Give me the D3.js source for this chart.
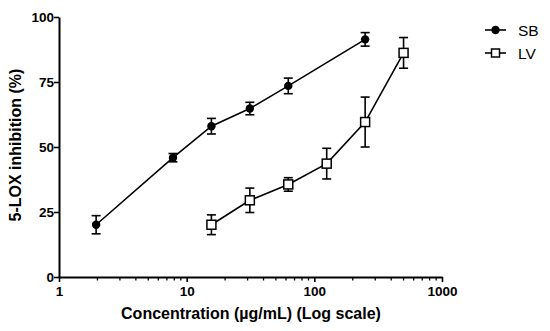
<!DOCTYPE html>
<html>
<head>
<meta charset="utf-8">
<script src="https://cdn.jsdelivr.net/npm/d3@7"></script>
<style>
  body { margin: 0; background: #fff; }
  text { font-family: "Liberation Sans", Arial, sans-serif; }
</style>
</head>
<body>
<div id="chart"></div>
<script>
// data
const sbConc = [1.953, 7.8125, 15.625, 31.25, 62.5, 250];
const sbMean = [20.1, 45.9, 58.0, 64.8, 73.5, 91.4];
const sbErr  = [3.5, 1.6, 3.0, 2.4, 3.0, 2.6];

const lvConc = [15.625, 31.25, 62.5, 125, 250, 500];
const lvMean = [20.1, 29.5, 35.6, 43.6, 59.6, 86.2];
const lvErr  = [3.8, 4.7, 2.6, 5.9, 9.6, 5.9];

const yTicks = [0, 25, 50, 75, 100];
const xTicks = [1, 10, 100, 1000];

const width = 550, height = 331;
const margin = { top: 17, right: 108, bottom: 54, left: 59 };

const svg = d3.select("#chart").append("svg")
  .attr("width", width)
  .attr("height", height);

const x = d3.scaleLog()
  .domain([1, 1000])
  .range([margin.left, width - margin.right]);

const y = d3.scaleLinear()
  .domain([0, 100])
  .range([height - margin.bottom, margin.top]);

const sb = sbConc.map((c, i) => ({ c: c, m: sbMean[i], e: sbErr[i] }));
const lv = lvConc.map((c, i) => ({ c: c, m: lvMean[i], e: lvErr[i] }));

// minor ticks for log axis
const minor = [];
for (let p = 1; p < 1000; p *= 10) {
  for (let k = 2; k <= 9; k++) minor.push(p * k);
}

const xAxis = svg.append("g")
  .attr("transform", `translate(0,${y(0)})`)
  .call(d3.axisBottom(x).tickValues(xTicks).tickFormat(d3.format("d")).tickSize(5).tickSizeOuter(0));

xAxis.selectAll(".minor")
  .data(minor)
  .join("line")
  .attr("class", "minor")
  .attr("x1", d => x(d)).attr("x2", d => x(d))
  .attr("y1", 0).attr("y2", 3.5)
  .attr("stroke", "#000").attr("stroke-width", 1.3);

const yAxis = svg.append("g")
  .attr("transform", `translate(${x(1)},0)`)
  .call(d3.axisLeft(y).tickValues(yTicks).tickSize(5).tickSizeOuter(0));

[xAxis, yAxis].forEach(g => {
  g.select(".domain").attr("stroke", "#000").attr("stroke-width", 2);
  g.selectAll(".tick line").attr("stroke", "#000").attr("stroke-width", 1.6);
  g.selectAll(".tick text")
    .attr("fill", "#000")
    .style("font-size", "13.5px")
    .style("font-weight", "bold")
    .style("font-family", "'Liberation Sans', Arial, sans-serif");
});
xAxis.selectAll(".tick text").attr("y", 9);
yAxis.selectAll(".tick text").attr("x", -5);

// axis titles
svg.append("text")
  .attr("x", 251)
  .attr("y", 319)
  .attr("text-anchor", "middle")
  .style("font-size", "16px")
  .style("font-weight", "bold")
  .text("Concentration (µg/mL) (Log scale)");

svg.append("text")
  .attr("transform", `translate(20.5,${(68 + 222) / 2}) rotate(-90)`)
  .attr("text-anchor", "middle")
  .style("font-size", "16px")
  .style("font-weight", "bold")
  .text("5-LOX inhibition (%)");

const line = d3.line().x(d => x(d.c)).y(d => y(d.m));

function drawSeries(data, marker) {
  const g = svg.append("g");
  g.append("path")
    .datum(data)
    .attr("d", line)
    .attr("fill", "none")
    .attr("stroke", "#000")
    .attr("stroke-width", 1.6);

  const eb = g.selectAll(".eb").data(data).join("g").attr("class", "eb");
  eb.append("line")
    .attr("x1", d => x(d.c)).attr("x2", d => x(d.c))
    .attr("y1", d => y(d.m - d.e)).attr("y2", d => y(d.m + d.e))
    .attr("stroke", "#000").attr("stroke-width", 1.6);
  [-1, 1].forEach(s => {
    eb.append("line")
      .attr("x1", d => x(d.c) - 4.5).attr("x2", d => x(d.c) + 4.5)
      .attr("y1", d => y(d.m + s * d.e)).attr("y2", d => y(d.m + s * d.e))
      .attr("stroke", "#000").attr("stroke-width", 1.6);
  });

  if (marker === "circle") {
    g.selectAll(".pt").data(data).join("circle")
      .attr("class", "pt")
      .attr("cx", d => x(d.c)).attr("cy", d => y(d.m))
      .attr("r", 4.2)
      .attr("fill", "#000");
  } else {
    g.selectAll(".pt").data(data).join("rect")
      .attr("class", "pt")
      .attr("x", d => x(d.c) - 4.5).attr("y", d => y(d.m) - 4.5)
      .attr("width", 9).attr("height", 9)
      .attr("fill", "#fff")
      .attr("stroke", "#000")
      .attr("stroke-width", 1.5);
  }
}

drawSeries(sb, "circle");
drawSeries(lv, "square");

// legend
const legend = svg.append("g");
const items = [{ name: "SB", marker: "circle", yy: 30 }, { name: "LV", marker: "square", yy: 53 }];
items.forEach(it => {
  legend.append("line")
    .attr("x1", 485).attr("x2", 506)
    .attr("y1", it.yy).attr("y2", it.yy)
    .attr("stroke", "#000").attr("stroke-width", 1.6);
  if (it.marker === "circle") {
    legend.append("circle").attr("cx", 495.5).attr("cy", it.yy).attr("r", 4.2).attr("fill", "#000");
  } else {
    legend.append("rect").attr("x", 491.5).attr("y", it.yy - 4).attr("width", 8).attr("height", 8)
      .attr("fill", "#fff").attr("stroke", "#000").attr("stroke-width", 1.5);
  }
  legend.append("text")
    .attr("x", 518).attr("y", it.yy + 5.5)
    .style("font-size", "15.5px")
    .text(it.name);
});
</script>
</body>
</html>
